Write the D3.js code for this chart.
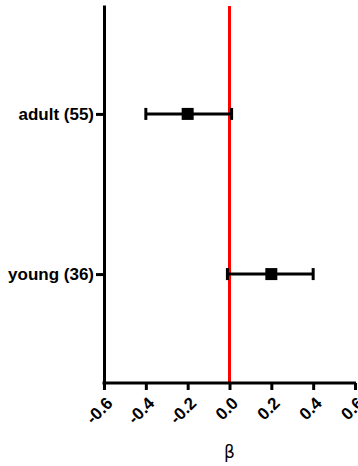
<!DOCTYPE html>
<html>
<head>
<meta charset="utf-8">
<script src="https://cdn.jsdelivr.net/npm/d3@7"></script>
<style>
  body { margin: 0; background: #fff; }
  svg { display: block; }
</style>
</head>
<body>
<div id="chart"></div>
<script>
// Chart data
const groups = ['adult (55)', 'young (36)']
const beta = [-0.2, 0.2]
const lower = [-0.4, -0.01]
const upper = [0.01, 0.4]
const xTicks = [-0.6, -0.4, -0.2, 0.0, 0.2, 0.4, 0.6]

const width = 358,
  height = 466,
  margin = { top: 5, right: 2, bottom: 83, left: 104 }

const svg = d3.select('#chart')
  .append('svg')
  .attr('width', width)
  .attr('height', height)

const x = d3.scaleLinear()
  .domain([-0.6, 0.6])
  .range([margin.left, width - margin.right - 1])

const y = d3.scalePoint()
  .domain(groups)
  .range([margin.top, height - margin.bottom])
  .padding(0.68)

// reference line at zero
svg.append('line')
  .attr('x1', x(0)).attr('x2', x(0))
  .attr('y1', margin.top + 1).attr('y2', height - margin.bottom)
  .attr('stroke', '#ff0000')
  .attr('stroke-width', 3)

// error bars
const bars = svg.append('g')
groups.forEach((g, i) => {
  const cy = y(g)
  bars.append('line')
    .attr('x1', x(lower[i])).attr('x2', x(upper[i]))
    .attr('y1', cy).attr('y2', cy)
    .attr('stroke', '#000').attr('stroke-width', 3)
  ;[lower[i], upper[i]].forEach(v => {
    bars.append('line')
      .attr('x1', x(v)).attr('x2', x(v))
      .attr('y1', cy - 6).attr('y2', cy + 6)
      .attr('stroke', '#000').attr('stroke-width', 3)
  })
  bars.append('rect')
    .attr('x', x(beta[i]) - 6).attr('y', cy - 6)
    .attr('width', 12).attr('height', 12)
    .attr('fill', '#000')
})

// x axis
const xAxis = svg.append('g')
  .attr('transform', `translate(0, ${height - margin.bottom})`)
  .call(d3.axisBottom(x).tickValues(xTicks).tickSize(7).tickSizeOuter(0).tickFormat(d => d.toFixed(1)))
xAxis.select('.domain').attr('stroke-width', 3).attr('d', `M${margin.left - 1.5},0H${width - margin.right}`)
xAxis.selectAll('.tick line').attr('stroke-width', 3)
xAxis.selectAll('.tick text')
  .attr('font-family', 'Liberation Sans, Arial, sans-serif')
  .attr('font-weight', 'bold')
  .attr('font-size', 17)
  .attr('text-anchor', 'end')
  .attr('transform', 'translate(5, 17) rotate(-45)')
  .attr('x', 0).attr('y', 0).attr('dy', '0.35em')

// y axis
const yAxis = svg.append('g')
  .attr('transform', `translate(${margin.left}, 0)`)
  .call(d3.axisLeft(y).tickSize(8).tickSizeOuter(0).tickPadding(2))
yAxis.select('.domain').attr('stroke-width', 3)
yAxis.selectAll('.tick line').attr('stroke-width', 3)
yAxis.selectAll('.tick text')
  .attr('font-family', 'Liberation Sans, Arial, sans-serif')
  .attr('font-weight', 'bold')
  .attr('font-size', 17)
  .attr('fill', '#000')

// x title
svg.append('text')
  .attr('x', x(0))
  .attr('y', 458)
  .attr('text-anchor', 'middle')
  .attr('font-family', 'DejaVu Sans, sans-serif')
  .attr('font-size', 17)
  .text('β')
</script>
</body>
</html>
